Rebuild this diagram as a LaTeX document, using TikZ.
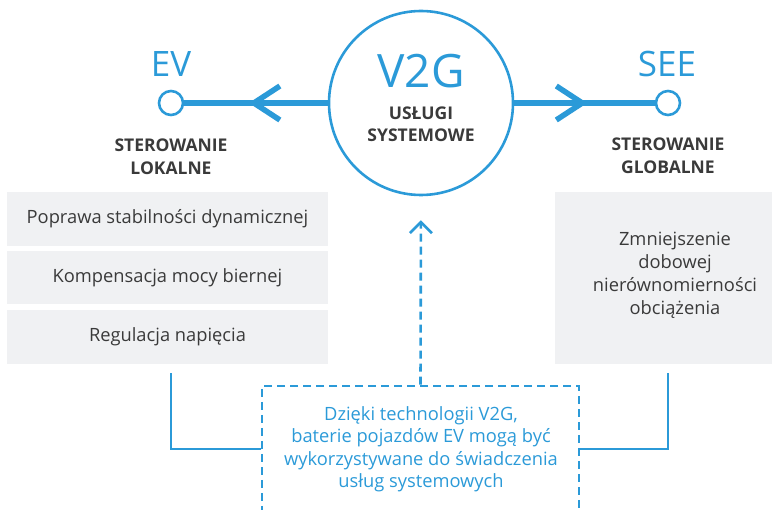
\documentclass[tikz,border=0pt]{standalone}
\usepackage{fontspec}
\setmainfont{Open Sans}
\usetikzlibrary{arrows.meta,decorations.markings}
\definecolor{v2gblue}{HTML}{2B9AD8}
\definecolor{txtgray}{HTML}{3A3A3A}
\definecolor{boxgray}{HTML}{F0F1F3}
\newcommand{\fsz}[2]{\fontsize{#1}{#2}\selectfont}
\begin{document}
\begin{tikzpicture}[x=1pt,y=-1pt,
  hubring/.style={circle,draw=v2gblue,line width=2.6pt,minimum size=184pt,inner sep=0pt},
  enddot/.style={circle,draw=v2gblue,line width=2.6pt,fill=white,minimum size=24pt,inner sep=0pt},
  bigtag/.style={text=v2gblue,font=\fsz{35}{40},inner sep=0pt},
  ctrltag/.style={text=txtgray,font=\fsz{17.5}{23}\bfseries,align=center,inner sep=0pt},
  servbox/.style={fill=boxgray,inner sep=0pt},
  servtext/.style={text=txtgray,font=\fsz{18.3}{23},align=center,inner sep=0pt},
  mainline/.style={draw=v2gblue,line width=5.5pt},
  conn/.style={draw=v2gblue,line width=2.6pt},
  dashline/.style={draw=v2gblue,line width=2.6pt,dash pattern=on 8pt off 5pt},
  chevron/.style={postaction={decorate},decoration={markings,
      mark=at position #1 with {\arrow{Straight Barb[length=26pt,width=34pt,line width=5.5pt,line cap=butt]}}}}
]
\useasboundingbox (0,0) rectangle (772,510);

% central hub
\node[hubring] (hub) at (421,103) {};
\node[text=v2gblue,font=\fsz{46}{50},inner sep=0pt] (v2g) at (421,71) {V2G};
\node[ctrltag,font=\fsz{17.5}{22}\bfseries] (svc) at (421,124) {USŁUGI\\SYSTEMOWE};

% end points
\node[enddot] (evdot) at (171,103) {};
\node[enddot] (seedot) at (668,103) {};
\node[bigtag] (ev) at (171,64) {EV};
\node[bigtag] (see) at (667,64) {SEE};
\node[ctrltag] (loc) at (171,156.5) {STEROWANIE\\LOKALNE};
\node[ctrltag] (glob) at (668,155.5) {STEROWANIE\\GLOBALNE};

% horizontal links with chevrons
\path[mainline,chevron=0.55] (hub.west) -- (evdot.east);
\path[mainline,chevron=0.52] (hub.east) -- (seedot.west);

% service boxes
\node[servbox,minimum width=321pt,minimum height=54pt] (boxA) at (167.5,219) {};
\node[servbox,minimum width=321pt,minimum height=53pt] (boxB) at (167.5,277.5) {};
\node[servbox,minimum width=321pt,minimum height=54pt] (boxC) at (167.5,337) {};
\node[servbox,minimum width=217pt,minimum height=172pt] (boxD) at (663.5,278) {};
\node[servtext] (txtA) at (boxA) {Poprawa stabilności dynamicznej};
\node[servtext] (txtB) at (boxB) {Kompensacja mocy biernej};
\node[servtext] (txtC) at (boxC) {Regulacja napięcia};
\node[servtext] (txtD) at (675,275) {Zmniejszenie\\dobowej\\nierównomierności\\obciążenia};

% note with dashed frame running off the bottom
\node[dashline,minimum width=317pt,minimum height=130pt,inner sep=0pt] (note) at (420.5,451) {};
\node[servtext,text=v2gblue,font=\fsz{18.3}{22.5}] (notetxt) at (421,449) 
  {Dzięki technologii V2G,\\baterie pojazdów EV mogą być\\wykorzystywane do świadczenia\\usług systemowych};

% dashed arrow from the note up to the hub
\draw[dashline,-{Straight Barb[length=11pt,width=22pt,line width=2.6pt]},shorten >=24pt] (note.north) -- (hub.south);

% solid connectors from the box columns to the note
\draw[conn] ([yshift=-9pt]boxC.south -| evdot.center) |- ([yshift=2pt]note.west);
\draw[conn] ([yshift=-9pt]boxD.south -| seedot.center) |- ([yshift=2pt]note.east);
\end{tikzpicture}
\end{document}
